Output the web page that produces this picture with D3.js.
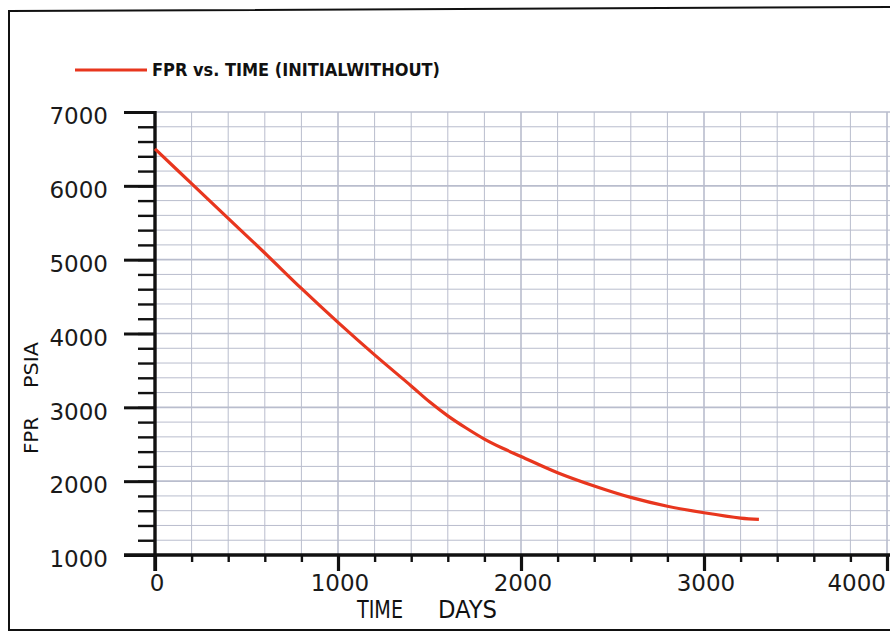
<!doctype html>
<html>
<head>
<meta charset="utf-8">
<title>FPR vs. TIME</title>
<script src="https://cdnjs.cloudflare.com/ajax/libs/d3/7.8.5/d3.min.js"></script>
<style>
body { margin: 0; background: #fff; }
</style>
</head>
<body>
<div id="chartContainer"></div>
<script type="text/javascript">

// data
var timeDays = [0, 200, 400, 600, 800, 1000, 1200, 1400, 1500, 1600, 1700, 1800, 1900, 2000, 2200, 2400, 2600, 2800, 3000, 3200, 3300];
var fprPsia  = [6500, 6030, 5560, 5090, 4610, 4150, 3710, 3290, 3075, 2885, 2720, 2570, 2445, 2335, 2115, 1935, 1780, 1660, 1572, 1500, 1482];

var yTicks = [1000, 2000, 3000, 4000, 5000, 6000, 7000];
var xTicks = [0, 1000, 2000, 3000, 4000];
var seriesName = "FPR vs. TIME (INITIALWITHOUT)";
var xTitle = ["TIME", "DAYS"];
var yTitle = ["FPR", "PSIA"];

var width = 890, height = 635;
var redLine = "#e8361e", gridColor = "#b9bdcd";
var condensed = "'DejaVu Sans Condensed', 'DejaVu Sans', sans-serif";

var svg = d3.select("#chartContainer").append("svg")
    .attr("width", width)
    .attr("height", height)
    .style("font-family", "'DejaVu Sans', sans-serif");

var x = d3.scaleLinear().domain([0, 4000]).range([155, 887]);
var y = d3.scaleLinear().domain([1000, 7000]).range([555, 112]);

// page frame
svg.append("path")
    .attr("d", "M890,7 L9,11 L9,630 L890,630")
    .attr("fill", "none")
    .attr("stroke", "#111")
    .attr("stroke-width", 2);

// grid, every 200
var grid = svg.append("g").attr("class", "grid");
grid.selectAll("line.h")
    .data(d3.range(1200, 7001, 200))
    .enter().append("line")
    .attr("class", "h")
    .attr("x1", x(0)).attr("x2", width)
    .attr("y1", function (d) { return y(d); })
    .attr("y2", function (d) { return y(d); })
    .attr("stroke", gridColor)
    .attr("stroke-width", function (d) { return d % 1000 === 0 ? 1.6 : 1; });
grid.selectAll("line.v")
    .data(d3.range(200, 4001, 200))
    .enter().append("line")
    .attr("class", "v")
    .attr("y1", y(7000)).attr("y2", y(1000))
    .attr("x1", function (d) { return x(d); })
    .attr("x2", function (d) { return x(d); })
    .attr("stroke", gridColor)
    .attr("stroke-width", function (d) { return d % 1000 === 0 ? 1.6 : 1; });

// y axis: minor then major ticks
var yMinor = svg.append("g")
    .attr("transform", "translate(" + x(0) + ",0)")
    .call(d3.axisLeft(y).tickValues(d3.range(1000, 7001, 200)).tickSize(17).tickFormat(""));
var yMajor = svg.append("g")
    .attr("transform", "translate(" + x(0) + ",0)")
    .call(d3.axisLeft(y).tickValues(yTicks).tickSize(31).tickFormat(""));
[yMinor, yMajor].forEach(function (g) {
    g.select(".domain").remove();
    g.selectAll("line").attr("stroke", "#111").attr("stroke-width", 2.4);
});
yMajor.selectAll("line").attr("stroke-width", 3);

svg.selectAll("text.ylab")
    .data(yTicks)
    .enter().append("text")
    .attr("class", "ylab")
    .attr("x", 108)
    .attr("y", function (d) { return y(d) + 4; })
    .attr("dy", "0.36em")
    .attr("text-anchor", "end")
    .attr("font-size", 23)
    .attr("fill", "#1a1a1a")
    .text(function (d) { return d; });

// x axis
var xMinor = svg.append("g")
    .attr("transform", "translate(0," + y(1000) + ")")
    .call(d3.axisBottom(x).tickValues(d3.range(200, 4001, 200)).tickSize(7).tickFormat(""));
var xMajor = svg.append("g")
    .attr("transform", "translate(0," + y(1000) + ")")
    .call(d3.axisBottom(x).tickValues(xTicks).tickSize(16).tickFormat(""));
[xMinor, xMajor].forEach(function (g) {
    g.select(".domain").remove();
    g.selectAll("line").attr("stroke", "#111").attr("stroke-width", 2.4);
});
xMajor.selectAll("line").attr("stroke-width", 3.2);

svg.selectAll("text.xlab")
    .data(xTicks)
    .enter().append("text")
    .attr("class", "xlab")
    .attr("x", function (d, i) { return i === xTicks.length - 1 ? x(d) - 1 : x(d) + 2; })
    .attr("y", 583)
    .attr("dy", "0.36em")
    .attr("text-anchor", function (d, i) { return i === xTicks.length - 1 ? "end" : "middle"; })
    .attr("font-size", 23)
    .attr("fill", "#1a1a1a")
    .text(function (d) { return d; });

// axis lines
svg.append("line")
    .attr("x1", x(0)).attr("x2", x(0))
    .attr("y1", y(7000) - 1).attr("y2", y(1000) + 16)
    .attr("stroke", "#111").attr("stroke-width", 3.4);
svg.append("line")
    .attr("x1", x(0) - 31).attr("x2", width)
    .attr("y1", y(1000)).attr("y2", y(1000))
    .attr("stroke", "#111").attr("stroke-width", 3.4);

// axis titles (two words each, spaced like the original)
var xTitleX = [357, 438], xTitleW = [46, 59];
svg.selectAll("text.xtitle")
    .data(xTitle)
    .enter().append("text")
    .attr("class", "xtitle")
    .attr("x", function (d, i) { return xTitleX[i]; })
    .attr("y", 618)
    .attr("font-family", condensed)
    .attr("font-size", 24)
    .attr("textLength", function (d, i) { return xTitleW[i]; })
    .attr("lengthAdjust", "spacingAndGlyphs")
    .attr("fill", "#111")
    .text(function (d) { return d; });

var yTitleY = [454, 388], yTitleW = [37, 46];
svg.selectAll("text.ytitle")
    .data(yTitle)
    .enter().append("text")
    .attr("class", "ytitle")
    .attr("transform", function (d, i) { return "translate(38," + yTitleY[i] + ") rotate(-90)"; })
    .attr("font-size", 19)
    .attr("textLength", function (d, i) { return yTitleW[i]; })
    .attr("lengthAdjust", "spacingAndGlyphs")
    .attr("fill", "#111")
    .text(function (d) { return d; });

// series
var points = timeDays.map(function (t, i) { return [t, fprPsia[i]]; });
var line = d3.line()
    .x(function (d) { return x(d[0]); })
    .y(function (d) { return y(d[1]); })
    .curve(d3.curveCatmullRom);
svg.append("path")
    .datum(points)
    .attr("d", line)
    .attr("fill", "none")
    .attr("stroke", redLine)
    .attr("stroke-width", 3.2)
    .attr("stroke-linejoin", "round");

// legend
var legend = svg.append("g").attr("transform", "translate(75,70)");
legend.append("line")
    .attr("x1", 0).attr("x2", 72)
    .attr("stroke", redLine)
    .attr("stroke-width", 3.2);
legend.append("text")
    .attr("x", 77)
    .attr("dy", "0.36em")
    .attr("font-family", condensed)
    .attr("font-weight", "bold")
    .attr("font-size", 17)
    .attr("textLength", 288)
    .attr("lengthAdjust", "spacingAndGlyphs")
    .attr("fill", "#111")
    .text(seriesName);

</script>
</body>
</html>
